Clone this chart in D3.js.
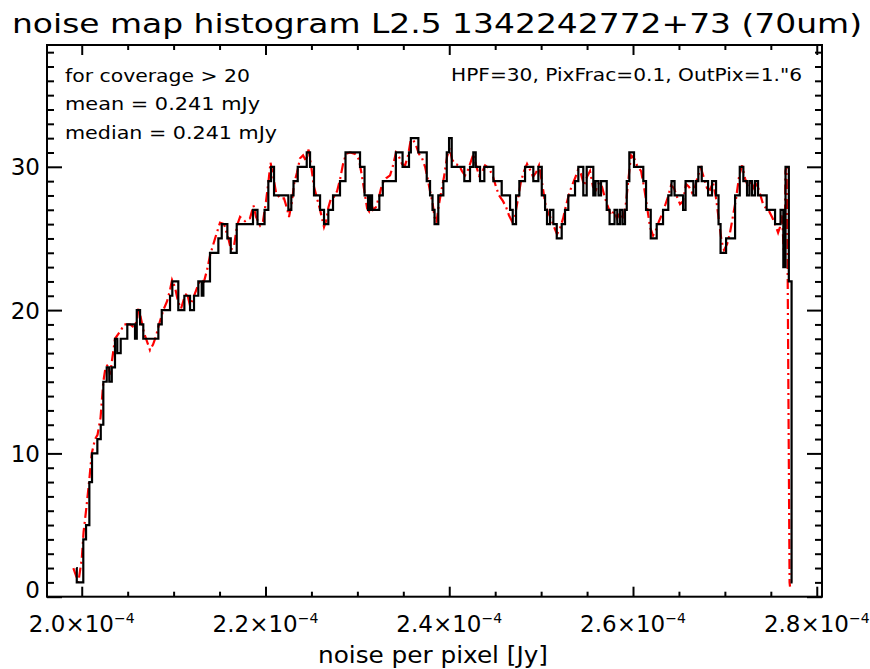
<!DOCTYPE html>
<html>
<head>
<meta charset="utf-8">
<script src="https://cdn.jsdelivr.net/npm/d3@7"></script>
<style>
  body { margin: 0; background: #fff; }
  svg { display: block; }
  text { font-family: "DejaVu Sans", sans-serif; fill: #000; }
</style>
</head>
<body>
<svg id="chart" width="870" height="669"></svg>
<script>
// Histogram of per-pixel noise (noise in units of 1e-6 Jy).
// Left edge of each run of equal counts, and the count in that run.
const binEdges = [
  199.40, 199.46, 200.17, 200.47, 200.83, 201.12, 201.70, 202.07, 202.35, 202.72,
  203.00, 203.27, 203.62, 203.87, 204.24, 204.96, 205.80, 205.99, 206.35, 206.70,
  208.34, 208.71, 209.61, 209.86, 210.51, 211.17, 211.79, 212.22, 212.69, 213.06,
  213.24, 213.96, 214.87, 215.24, 215.85, 216.22, 216.87, 218.64, 219.13, 219.90,
  220.31, 220.60, 220.93, 222.49, 222.81, 223.05, 223.51, 224.49, 224.85, 225.28,
  225.94, 226.37, 226.84, 227.35, 228.11, 228.71, 230.29, 230.78, 231.16, 231.38,
  231.60, 232.39, 232.77, 234.19, 234.92, 235.62, 235.82, 236.64, 237.55, 237.91,
  238.18, 238.40, 238.81, 239.36, 239.73, 239.98, 240.27, 241.64, 242.26, 242.62,
  242.88, 243.35, 243.82, 244.80, 245.71, 246.62, 246.91, 247.27, 247.63, 248.25,
  249.15, 249.70, 250.07, 250.43, 250.64, 250.97, 251.33, 251.70, 252.24, 252.60,
  252.96, 253.69, 254.05, 254.59, 254.96, 255.68, 255.92, 256.25, 256.52, 257.14,
  257.45, 257.99, 258.29, 258.59, 258.86, 259.13, 259.32, 259.60, 260.11, 261.12,
  261.42, 261.93, 262.58, 263.27, 263.84, 264.19, 264.52, 265.45, 265.72, 266.57,
  266.86, 267.11, 267.48, 268.17, 268.60, 269.04, 269.31, 269.53, 270.13, 271.11,
  271.62, 272.01, 272.41, 272.68, 272.96, 273.28, 273.61, 274.55, 275.46, 276.06,
  276.36, 276.60, 276.96, 277.26
];
const binCounts = [
  2, 1, 4, 5, 8, 10, 11, 12, 15, 16,
  15, 16, 18, 17, 18, 19, 18, 20, 19, 18,
  19, 20, 21, 22, 20, 21, 20, 21, 22, 21,
  22, 24, 25, 26, 25, 24, 26, 27, 26, 27,
  29, 30, 28, 27, 28, 29, 30, 31, 30, 28,
  27, 26, 27, 28, 29, 31, 30, 28, 27, 28,
  27, 28, 29, 31, 30, 31, 32, 31, 29, 28,
  27, 26, 28, 29, 31, 32, 30, 29, 30, 31,
  30, 29, 30, 29, 28, 27, 26, 28, 29, 30,
  29, 30, 28, 27, 26, 27, 26, 25, 26, 27,
  28, 29, 30, 28, 30, 28, 29, 28, 29, 27,
  26, 27, 26, 27, 26, 27, 29, 31, 30, 29,
  27, 25, 26, 27, 28, 29, 28, 27, 29, 28,
  29, 30, 29, 28, 29, 28, 26, 24, 25, 28,
  30, 29, 28, 29, 28, 29, 28, 27, 26, 27,
  23, 30, 22, 1
];
const binEnd = 277.37;

// Second histogram, drawn as a dash-dot polyline.
const lineNoise = [
  199.09, 199.63, 200.00, 200.20, 200.47, 200.83, 201.09, 201.45, 201.72, 202.05,
  202.35, 202.59, 202.86, 203.08, 203.30, 203.62, 203.95, 204.28, 204.60, 205.26,
  205.69, 206.02, 206.18, 206.45, 206.78, 207.11, 207.43, 207.76, 208.09, 208.41,
  208.88, 209.28, 209.61, 209.83, 210.15, 210.48, 210.81, 211.13, 211.46, 211.79,
  212.11, 212.52, 212.88, 213.31, 213.64, 213.96, 214.51, 215.05, 215.49, 215.92,
  216.25, 216.58, 216.90, 217.23, 217.77, 218.31, 218.70, 218.97, 219.41, 219.73,
  220.06, 220.33, 220.55, 220.82, 221.15, 221.58, 222.02, 222.34, 222.56, 222.89,
  223.11, 223.43, 223.76, 224.09, 224.41, 224.69, 224.96, 225.28, 225.61, 225.94,
  226.15, 226.37, 226.59, 226.86, 227.13, 227.46, 227.79, 228.11, 228.44, 228.77,
  229.20, 229.75, 230.18, 230.51, 230.84, 231.06, 231.27, 231.49, 231.71, 232.03,
  232.36, 232.69, 233.12, 233.56, 233.88, 234.21, 234.53, 234.86, 235.19, 235.52,
  235.79, 236.06, 236.38, 236.71, 237.04, 237.37, 237.64, 237.91, 238.18, 238.40,
  238.61, 238.83, 239.11, 239.43, 239.76, 240.03, 240.31, 240.63, 241.07, 241.39,
  241.72, 242.05, 242.37, 242.64, 242.92, 243.24, 243.57, 243.90, 244.33, 244.77,
  245.09, 245.42, 245.85, 246.18, 246.51, 246.83, 247.16, 247.49, 247.81, 248.14,
  248.47, 248.79, 249.12, 249.45, 249.77, 250.10, 250.43, 250.75, 251.08, 251.41,
  251.73, 252.06, 252.39, 252.71, 253.04, 253.36, 253.69, 254.02, 254.34, 254.67,
  255.00, 255.32, 255.65, 255.98, 256.30, 256.63, 256.96, 257.28, 257.61, 257.94,
  258.26, 258.59, 258.91, 259.24, 259.51, 259.79, 260.11, 260.44, 260.88, 261.20,
  261.53, 261.85, 262.18, 262.51, 262.83, 263.16, 263.49, 263.81, 264.14, 264.47,
  264.79, 265.12, 265.45, 265.77, 266.10, 266.42, 266.75, 267.08, 267.40, 267.73,
  268.06, 268.38, 268.71, 269.04, 269.36, 269.64, 269.91, 270.24, 270.56, 270.89,
  271.22, 271.54, 271.87, 272.19, 272.52, 272.85, 273.17, 273.50, 273.83, 274.15,
  274.48, 274.81, 275.13, 275.46, 275.79, 276.00, 276.22, 276.38, 276.49, 276.60,
  276.71, 276.82, 277.04, 277.09
];
const lineCounts = [
  2.0, 1.0, 2.6, 4.5, 6.0, 8.2, 10.0, 11.0, 11.3, 12.5,
  15.0, 16.0, 16.2, 15.5, 16.5, 18.0, 18.3, 18.6, 19.0, 19.0,
  18.8, 19.3, 20.2, 19.4, 18.4, 17.8, 17.2, 17.6, 18.2, 19.0,
  20.0, 20.6, 21.4, 22.1, 21.6, 20.6, 20.1, 20.8, 21.2, 20.3,
  20.8, 21.5, 22.1, 22.0, 22.8, 23.8, 25.0, 26.1, 26.0, 25.1,
  24.2, 24.5, 25.9, 26.5, 26.2, 26.4, 27.3, 26.5, 25.9, 26.2,
  27.6, 29.0, 30.3, 29.4, 28.2, 27.8, 27.8, 27.1, 26.5, 27.6,
  28.8, 29.6, 30.6, 30.8, 30.4, 31.2, 30.1, 28.6, 27.8, 27.0,
  26.4, 25.8, 26.2, 27.2, 27.8, 27.9, 28.3, 29.1, 30.2, 30.9,
  31.0, 30.9, 30.5, 29.3, 28.0, 27.1, 26.9, 27.5, 27.0, 27.2,
  27.9, 28.8, 29.2, 29.4, 30.1, 31.0, 30.7, 30.2, 30.1, 30.8,
  31.8, 31.9, 31.5, 30.9, 30.6, 30.0, 29.2, 28.3, 27.5, 26.5,
  26.1, 27.2, 28.2, 29.3, 30.7, 31.3, 30.5, 30.2, 30.1, 29.7,
  29.4, 29.8, 30.4, 30.9, 30.1, 29.4, 29.6, 30.1, 29.9, 29.3,
  28.6, 28.0, 27.6, 27.2, 26.6, 26.2, 26.6, 27.8, 29.0, 29.7,
  30.2, 29.8, 29.3, 29.6, 30.1, 28.9, 27.5, 26.8, 26.4, 25.8,
  25.3, 25.7, 26.4, 27.3, 28.1, 28.7, 29.2, 29.8, 29.5, 28.7,
  29.3, 29.7, 28.6, 28.4, 28.9, 28.6, 27.8, 27.2, 26.6, 26.9,
  26.4, 26.8, 26.3, 27.5, 29.2, 30.8, 30.6, 30.1, 29.7, 28.6,
  27.2, 25.8, 25.2, 25.6, 26.2, 26.7, 27.3, 27.9, 28.7, 28.5,
  27.9, 27.4, 27.6, 28.8, 28.6, 28.2, 28.6, 29.4, 29.9, 29.2,
  28.5, 28.4, 28.9, 27.8, 26.2, 24.8, 24.2, 24.6, 25.4, 26.6,
  27.8, 29.3, 30.1, 29.2, 28.6, 29.0, 28.5, 28.8, 28.1, 27.4,
  27.1, 26.9, 26.5, 26.0, 25.4, 25.8, 26.6, 24.5, 23.2, 29.7,
  30.0, 24.0, 1.0, 0.7
];

// Axis ticks
const xMajorTicks = [200, 220, 240, 260, 280];
const xMajorLabels = ["2.0", "2.2", "2.4", "2.6", "2.8"];
const xTickExponent = "\u22124";
const yMajorTicks = [0, 10, 20, 30];
const yMajorLabels = ["0", "10", "20", "30"];

// Text
const titleText = "noise map histogram L2.5 1342242772+73 (70um)";
const xAxisTitle = "noise per pixel [Jy]";
const statLines = ["for coverage > 20", "mean = 0.241 mJy", "median = 0.241 mJy"];
const settingsText = "HPF=30, PixFrac=0.1, OutPix=1.\"6";

const svg = d3.select("#chart");
const plot = { left: 47, right: 822, top: 45, bottom: 596.7 };

const x = d3.scaleLinear().domain([196.22, 280.57]).range([plot.left, plot.right]);
const y = d3.scaleLinear().domain([0, 38.5]).range([plot.bottom, plot.top]);

// Title
svg.append("text")
  .attr("x", 12).attr("y", 33)
  .attr("textLength", 850).attr("lengthAdjust", "spacingAndGlyphs")
  .style("font-size", "27px")
  .text(titleText);

// Ticks on all four sides
const xMinor = d3.range(200, 281, 5).filter(v => !xMajorTicks.includes(v));
const yMinor = d3.range(0, 39, 1).filter(v => !yMajorTicks.includes(v));

function addAxis(axis, transform) {
  const g = svg.append("g").attr("transform", transform).call(axis);
  g.select(".domain").remove();
  g.selectAll("text").remove();
  g.selectAll("line").attr("stroke", "#000").attr("stroke-width", 2);
  return g;
}
addAxis(d3.axisBottom(x).tickValues(xMajorTicks).tickSize(-10), `translate(0,${plot.bottom})`);
addAxis(d3.axisBottom(x).tickValues(xMinor).tickSize(-5), `translate(0,${plot.bottom})`);
addAxis(d3.axisTop(x).tickValues(xMajorTicks).tickSize(-10), `translate(0,${plot.top})`);
addAxis(d3.axisTop(x).tickValues(xMinor).tickSize(-5), `translate(0,${plot.top})`);
addAxis(d3.axisLeft(y).tickValues(yMajorTicks).tickSize(-15), `translate(${plot.left},0)`);
addAxis(d3.axisLeft(y).tickValues(yMinor).tickSize(-7), `translate(${plot.left},0)`);
addAxis(d3.axisRight(y).tickValues(yMajorTicks).tickSize(-15), `translate(${plot.right},0)`);
addAxis(d3.axisRight(y).tickValues(yMinor).tickSize(-7), `translate(${plot.right},0)`);

// Frame
svg.append("rect")
  .attr("x", plot.left).attr("y", plot.top)
  .attr("width", plot.right - plot.left).attr("height", plot.bottom - plot.top)
  .attr("fill", "none").attr("stroke", "#000").attr("stroke-width", 2);

// X tick labels with exponent
xMajorTicks.forEach((v, i) => {
  const t = svg.append("text")
    .attr("x", x(v)).attr("y", 631.5)
    .attr("text-anchor", "middle")
    .style("font-size", "23px");
  t.append("tspan").text(xMajorLabels[i] + "\u00d710");
  t.append("tspan").attr("dy", -9).style("font-size", "14px").text(xTickExponent);
});

// Y tick labels
yMajorTicks.forEach((v, i) => {
  svg.append("text")
    .attr("x", 40).attr("y", Math.min(y(v) + 8.5, 598))
    .attr("text-anchor", "end")
    .style("font-size", "23px")
    .text(yMajorLabels[i]);
});

// X axis title
svg.append("text")
  .attr("x", 318).attr("y", 663)
  .attr("textLength", 230).attr("lengthAdjust", "spacingAndGlyphs")
  .style("font-size", "23px")
  .text(xAxisTitle);

// Annotations
const statWidths = [185, 195, 212];
const statBaselines = [81.5, 110, 138.5];
statLines.forEach((s, i) => {
  svg.append("text")
    .attr("x", 65).attr("y", statBaselines[i])
    .attr("textLength", statWidths[i]).attr("lengthAdjust", "spacingAndGlyphs")
    .style("font-size", "18px")
    .text(s);
});
svg.append("text")
  .attr("x", 451).attr("y", 80.7)
  .attr("textLength", 351).attr("lengthAdjust", "spacingAndGlyphs")
  .style("font-size", "18px")
  .text(settingsText);

// Dash-dot line
const lineData = lineNoise.map((v, i) => ({ x: v, y: lineCounts[i] }));
svg.append("path")
  .datum(lineData)
  .attr("fill", "none")
  .attr("stroke", "#ff0000")
  .attr("stroke-width", 2.2)
  .attr("stroke-dasharray", "10,4,2,4")
  .attr("d", d3.line().x(d => x(d.x)).y(d => y(d.y)));

// Step histogram
const stepData = binEdges.map((v, i) => ({ x: v, y: binCounts[i] }));
stepData.push({ x: binEnd, y: binCounts[binCounts.length - 1] });
svg.append("path")
  .datum(stepData)
  .attr("fill", "none")
  .attr("stroke", "#000")
  .attr("stroke-width", 2.2)
  .attr("d", d3.line().curve(d3.curveStepAfter).x(d => x(d.x)).y(d => y(d.y)));
</script>
</body>
</html>
